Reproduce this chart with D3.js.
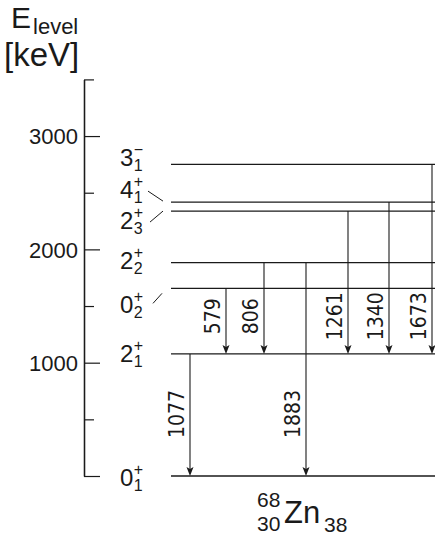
<!DOCTYPE html>
<html>
<head>
<meta charset="utf-8">
<script src="https://cdn.jsdelivr.net/npm/d3@7/dist/d3.min.js"></script>
<style>
  html, body { margin: 0; padding: 0; background: #fff; }
  svg { display: block; font-family: "Liberation Sans", Arial, Helvetica, sans-serif; }
</style>
</head>
<body>
<svg id="chart" width="435" height="535"></svg>
<script>
// Level scheme of 68Zn: energies in keV
const levelNames   = ["0+1", "2+1", "0+2", "2+2", "2+3", "4+1", "3-1"];
const levelSpin    = ["0", "2", "0", "2", "2", "4", "3"];
const levelParity  = ["+", "+", "+", "+", "+", "+", "\u2212"];
const levelIndex   = ["1", "1", "2", "2", "3", "1", "1"];
const levelEnergy  = [0, 1077, 1656, 1883, 2338, 2417, 2750];

// Gamma transitions: energy label, initial level, final level
const gammaLabels  = ["1077", "579", "806", "1883", "1261", "1340", "1673"];
const gammaFrom    = ["2+1", "0+2", "2+2", "2+2", "2+3", "4+1", "3-1"];
const gammaTo      = ["0+1", "2+1", "2+1", "0+1", "2+1", "2+1", "2+1"];

// Axis ticks
const majorTicks   = [0, 1000, 2000, 3000];
const minorTicks   = [500, 1500, 2500, 3500];

const svg = d3.select("#chart");
const ink = "#1a1a1a";

const y = d3.scaleLinear().domain([0, 3500]).range([476, 79.4]);
const axisX = 84;
const levelX0 = 171, levelX1 = 435;

// horizontal placement of each gamma arrow
const arrowX = d3.scaleOrdinal()
  .domain(gammaLabels)
  .range([190, 226, 264, 306, 348, 389, 432]);

const energyOf = d3.scaleOrdinal().domain(levelNames).range(levelEnergy);

// ---- energy axis (the zero tick carries no number) ----
const gMajor = svg.append("g").attr("transform", `translate(${axisX},0)`)
  .call(d3.axisLeft(y).tickValues(majorTicks).tickSizeInner(-16).tickSizeOuter(0)
        .tickPadding(6).tickFormat(d => d === 0 ? "" : d3.format("d")(d)));
const gMinor = svg.append("g").attr("transform", `translate(${axisX},0)`)
  .call(d3.axisLeft(y).tickValues(minorTicks).tickSizeInner(-10).tickSizeOuter(0)
        .tickFormat(""));
[gMajor, gMinor].forEach(g => {
  g.selectAll("path, line").attr("stroke", ink).attr("stroke-width", 1.2);
  g.select(".domain").attr("stroke-width", 1.3);
});
gMajor.selectAll("text")
  .attr("fill", ink)
  .style("font-family", "'Liberation Sans', Arial, sans-serif")
  .style("font-size", "22px")
  .attr("dy", "0.36em");

// axis title
const title = svg.append("text").attr("x", 11).attr("y", 28).attr("fill", ink);
title.append("tspan").style("font-size", "30px").text("E");
title.append("tspan").attr("dy", 6).attr("dx", 2).style("font-size", "22px").text("level");
svg.append("text").attr("x", 4).attr("y", 66).attr("fill", ink)
  .style("font-size", "33px").text("[keV]");

// ---- levels ----
const levels = levelNames.map((n, i) => ({
  name: n, spin: levelSpin[i], parity: levelParity[i], idx: levelIndex[i], e: levelEnergy[i]
}));

svg.append("g").selectAll("line").data(levels).join("line")
  .attr("x1", levelX0).attr("x2", levelX1)
  .attr("y1", d => y(d.e)).attr("y2", d => y(d.e))
  .attr("stroke", ink).attr("stroke-width", 1.3);

// spin/parity labels, shifted where levels crowd
const labelShift = { "0+1": 10, "2+1": 8, "0+2": 25, "2+2": 6, "2+3": 18, "4+1": -4, "3-1": 2 };
const labelX = 120;
const lab = svg.append("g").attr("fill", ink);
levels.forEach(d => {
  const base = y(d.e) + labelShift[d.name];
  const main = lab.append("text").attr("x", labelX).attr("y", base)
    .style("font-size", "24px").text(d.spin);
  const w = main.node().getComputedTextLength();
  lab.append("text").attr("x", labelX + w + 0.5).attr("y", base - 11)
    .style("font-size", "16px").text(d.parity);
  lab.append("text").attr("x", labelX + w + 0.5).attr("y", base + 5)
    .style("font-size", "16px").text(d.idx);
});

// short leader lines from crowded labels to their levels
const leaders = [
  { name: "4+1", x1: 148, dy1: -11, x2: 163, dy2: -1 },
  { name: "2+3", x1: 150, dy1: 11, x2: 163, dy2: 0 },
  { name: "0+2", x1: 153, dy1: 15, x2: 162, dy2: 5 }
];
svg.append("g").selectAll("line").data(leaders).join("line")
  .attr("x1", d => d.x1).attr("x2", d => d.x2)
  .attr("y1", d => y(energyOf(d.name)) + d.dy1)
  .attr("y2", d => y(energyOf(d.name)) + d.dy2)
  .attr("stroke", ink).attr("stroke-width", 1);

// ---- gamma transitions ----
const gammas = gammaLabels.map((l, i) => ({
  label: l, from: energyOf(gammaFrom[i]), to: energyOf(gammaTo[i])
}));

const gg = svg.append("g");
gg.selectAll("line").data(gammas).join("line")
  .attr("x1", d => arrowX(d.label)).attr("x2", d => arrowX(d.label))
  .attr("y1", d => y(d.from)).attr("y2", d => y(d.to) - 4)
  .attr("stroke", ink).attr("stroke-width", 1.1);

gg.selectAll("path").data(gammas).join("path")
  .attr("transform", d => `translate(${arrowX(d.label)},${y(d.to)})`)
  .attr("d", "M0,0 L-3.5,-9 L0,-7 L3.5,-9 Z")
  .attr("fill", ink);

gg.selectAll("text").data(gammas).join("text")
  .attr("transform", d => {
    const cy = d.to === 0 ? (y(1077) + y(0)) / 2 - 1 : (y(1656) + y(1077)) / 2 - 5;
    return `translate(${arrowX(d.label) - 6},${cy}) rotate(-90)`;
  })
  .attr("text-anchor", "middle")
  .attr("fill", ink)
  .style("font-family", "'Liberation Sans Narrow', 'DejaVu Sans Condensed', sans-serif")
  .style("font-size", "21px")
  .text(d => d.label);

// ---- nucleus label ----
const nuc = svg.append("g").attr("fill", ink);
nuc.append("text").attr("x", 257).attr("y", 507).style("font-size", "21px").text("68");
nuc.append("text").attr("x", 257).attr("y", 531).style("font-size", "21px").text("30");
nuc.append("text").attr("x", 284).attr("y", 523).style("font-size", "31px").text("Zn");
nuc.append("text").attr("x", 324).attr("y", 532).style("font-size", "21px").text("38");
</script>
</body>
</html>
